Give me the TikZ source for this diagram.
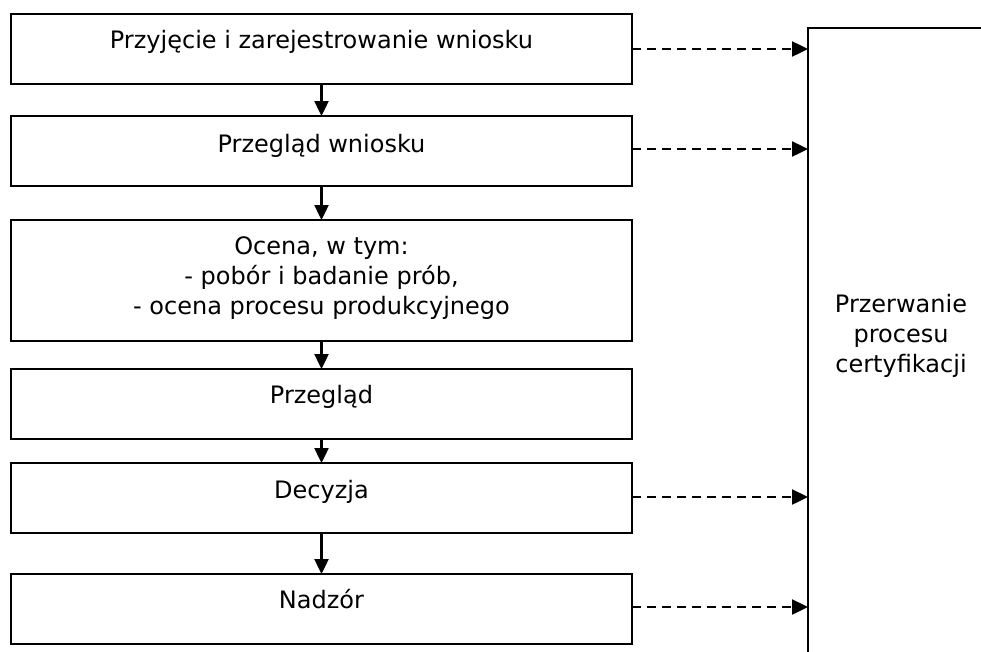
\documentclass[tikz,border=0pt]{standalone}
\usepackage{fontspec}
\setmainfont{DejaVu Sans}
\usetikzlibrary{arrows.meta}
\tikzset{
  stage/.style={draw, line width=1.7pt, minimum width=621pt, inner sep=0pt, outer sep=0pt},
  txt/.style={inner sep=0pt, outer sep=0pt, align=center, font=\fontsize{24}{30}\selectfont},
  flow/.style={line width=2.4pt, -{Triangle[length=15pt,width=14pt]}},
  stop/.style={line width=2.4pt, dash pattern=on 9pt off 6pt, -{Triangle[length=16pt,width=15pt]}},
}
\begin{document}
\begin{tikzpicture}[x=1pt,y=-1pt]
\useasboundingbox (0,0) rectangle (981,651);
% boxes
\node[stage, minimum height=70pt] (b1) at (321.5,49) {};
\node[stage, minimum height=70pt] (b2) at (321.5,151) {};
\node[stage, minimum height=121pt] (b3) at (321.5,280.5) {};
\node[stage, minimum height=70pt] (b4) at (321.5,404) {};
\node[stage, minimum height=70pt] (b5) at (321.5,498) {};
\node[stage, minimum height=70pt] (b6) at (321.5,609) {};
% texts
\node[txt, anchor=base] (t1) at (321.5,48) {Przyjęcie i zarejestrowanie wniosku};
\node[txt, anchor=base] (t2) at (321.5,152) {Przegląd wniosku};
\node[txt, anchor=north] (t3) at (321.5,237) {Ocena, w tym:\\- pobór i badanie prób,\\- ocena procesu produkcyjnego};
\node[txt, anchor=base] (t4) at (321.5,403) {Przegląd};
\node[txt, anchor=base] (t5) at (321.5,498) {Decyzja};
\node[txt, anchor=base] (t6) at (321.5,608) {Nadzór};
% right box
\coordinate (rtop) at (808,28);
\coordinate (rtr) at (982,28);
\coordinate (rbot) at (808,652);
\draw[line width=1.7pt] (rtr) -- (rtop) -- (rbot);
\node[txt, anchor=north] (tr) at (901,294) {Przerwanie\\procesu\\certyfikacji};
% flow arrows
\draw[flow] (b1.south) -- (b2.north);
\draw[flow] (b2.south) -- (b3.north);
\draw[flow] (b3.south) -- (b4.north);
\draw[flow] (b4.south) -- (b5.north);
\draw[flow] (b5.south) -- (b6.north);
% dashed arrows
\coordinate (e1) at (808,49);
\coordinate (e2) at (808,149);
\coordinate (e5) at (808,497);
\coordinate (e6) at (808,607);
\draw[stop] (b1.east) -- (e1);
\draw[stop] (b2.east |- e2) -- (e2);
\draw[stop] (b5.east |- e5) -- (e5);
\draw[stop] (b6.east |- e6) -- (e6);
\end{tikzpicture}
\end{document}
